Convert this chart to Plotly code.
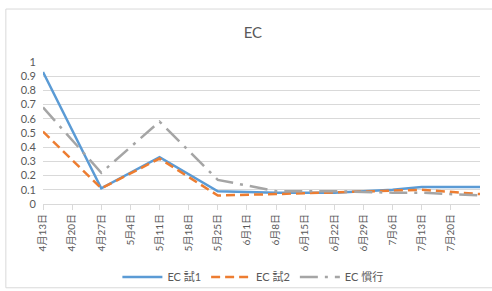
import plotly.graph_objects as go

dates = ["2021-04-13", "2021-04-27", "2021-05-11", "2021-05-25", "2021-06-08",
         "2021-06-22", "2021-07-06", "2021-07-13", "2021-07-27"]
ec_test1 = [0.93, 0.11, 0.33, 0.09, 0.08, 0.08, 0.10, 0.12, 0.12]
ec_test2 = [0.51, 0.11, 0.32, 0.06, 0.07, 0.08, 0.09, 0.10, 0.07]
ec_conv = [0.68, 0.22, 0.58, 0.17, 0.09, 0.09, 0.08, 0.08, 0.06]

tick_vals = ["2021-04-13", "2021-04-20", "2021-04-27", "2021-05-04", "2021-05-11",
             "2021-05-18", "2021-05-25", "2021-06-01", "2021-06-08", "2021-06-15",
             "2021-06-22", "2021-06-29", "2021-07-06", "2021-07-13", "2021-07-20"]
tick_text = ["4月13日", "4月20日", "4月27日", "5月4日", "5月11日", "5月18日", "5月25日",
             "6月1日", "6月8日", "6月15日", "6月22日", "6月29日", "7月6日", "7月13日", "7月20日"]

FONT = "Lato, Noto Sans CJK JP, sans-serif"
TXT = "#595959"
GRID = "#d9d9d9"

fig = go.Figure()
fig.add_trace(go.Scatter(x=dates, y=ec_test1, name="EC 試1", mode="lines",
                         line=dict(color="#5b9bd5", width=2.5)))
fig.add_trace(go.Scatter(x=dates, y=ec_test2, name="EC 試2", mode="lines",
                         line=dict(color="#ed7d31", width=2.5, dash="9px,5px")))
fig.add_trace(go.Scatter(x=dates, y=ec_conv, name="EC 慣行", mode="lines",
                         line=dict(color="#a5a5a5", width=2.5, dash="18px,7px,3px,7px")))

fig.update_layout(
    width=492, height=291,
    margin=dict(l=43, r=12, t=62, b=87, autoexpand=False),
    paper_bgcolor="white", plot_bgcolor="white",
    font=dict(family=FONT, color=TXT, size=11),
    title=dict(text="EC", x=0.514, xanchor="center", y=0.888, yanchor="middle",
               font=dict(size=15, color=TXT, family=FONT)),
    showlegend=True,
    legend=dict(orientation="h", xref="container", yref="container",
                x=0.514, xanchor="center", y=0.048, yanchor="middle",
                bgcolor="rgba(0,0,0,0)",
                font=dict(size=11, color=TXT), itemwidth=40),
    xaxis=dict(type="date", range=["2021-04-13", "2021-07-27"], automargin=False,
               tickmode="array", tickvals=tick_vals, ticktext=tick_text,
               tickangle=-90, tickfont=dict(size=10, color=TXT),
               showgrid=False, showline=True, linecolor=GRID, linewidth=1,
               ticks="outside", ticklen=5, tickcolor=GRID, zeroline=False),
    yaxis=dict(range=[0, 1], dtick=0.1, tick0=0, showgrid=True, gridcolor=GRID,
               gridwidth=1, zeroline=False, showline=False, automargin=False,
               tickfont=dict(size=11, color=TXT), ticks="", ticklabelstandoff=6),
)

fig.add_shape(type="rect", xref="paper", yref="paper",
              x0=-0.085, x1=1.1, y0=-0.59, y1=1.373,
              line=dict(color=GRID, width=1), fillcolor="rgba(0,0,0,0)", layer="below")

fig.write_html("out.html", config={"displayModeBar": False},
               post_script="document.body.style.margin='0';")
